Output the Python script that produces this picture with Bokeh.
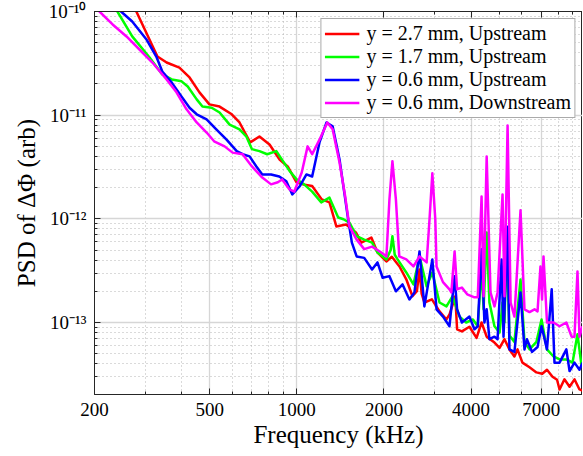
from bokeh.plotting import figure
from bokeh.models import FixedTicker, LogAxis, Legend, LegendItem
from bokeh.embed import file_html
from bokeh.resources import INLINE

# ---- data (kHz, arb) ----
freq_red = [260, 279, 330, 355, 393, 426, 461, 499, 541, 596, 634, 690, 743, 805, 872, 930, 998,
            1050, 1130, 1220, 1297, 1370, 1480, 1600, 1670, 1810, 1900, 2040, 2130, 2264, 2390,
            2510, 2600, 2655, 2700, 2760, 2930, 3113, 3290, 3371, 3530, 3580, 3720, 3950, 4180,
            4350, 4530, 4820, 5020, 5220, 5430, 5650, 5790, 6020, 6370, 6730, 7050, 7320, 7650,
            7930, 8090, 8410, 8760, 9110, 9480, 9710]
psd_red = [1.4e-10, 1.0e-10, 3.68e-11, 3.22e-11, 2.88e-11, 2.31e-11, 1.66e-11, 1.27e-11, 1.21e-11,
           1.02e-11, 8.5e-12, 5.46e-12, 6.23e-12, 5.21e-12, 3.74e-12, 3.2e-12, 2.25e-12,
           2.15e-12, 2.07e-12, 1.54e-12, 1.44e-12, 8.45e-13, 8.8e-13, 7.4e-13, 5.9e-13, 6.6e-13,
           4.74e-13, 3.88e-13, 4.3e-13, 3.47e-13, 2.61e-13, 1.79e-13, 2.0e-13, 3.25e-13, 1.9e-13,
           1.56e-13, 1.67e-13, 1.28e-13, 1.07e-13, 1.2e-13, 1.79e-13, 8.6e-14, 8.2e-14, 9.1e-14,
           7.1e-14, 1.0e-13, 7.3e-14, 6.4e-14, 5.7e-14, 6.9e-14, 5.5e-14, 4.7e-14, 5.5e-14,
           4.1e-14, 3.7e-14, 3.3e-14, 3.2e-14, 3.5e-14, 3.0e-14, 2.8e-14, 2.26e-14, 2.83e-14,
           2.4e-14, 2.83e-14, 2.26e-14, 2.2e-14]

freq_green = [230, 240, 270, 310, 343, 370, 400, 420, 451, 472, 508, 541, 586, 634, 670, 700, 743,
              790, 850, 890, 944, 998, 1060, 1130, 1215, 1297, 1390, 1450, 1520, 1610, 1710, 1820,
              1900, 2040, 2110, 2140, 2180, 2230, 2390, 2530, 2655, 2810, 2940, 3113, 3290, 3450,
              3650, 3850, 4060, 4220, 4350, 4420, 4530, 4630, 4820, 5020, 5140, 5220, 5310, 5430,
              5650, 5930, 6120, 6370, 6730, 7010, 7320, 7710, 8090, 8540, 8970, 9330, 9640, 9710]
psd_green = [1.15e-10, 1.0e-10, 5.75e-11, 3.6e-11, 2.47e-11, 2.21e-11, 2.12e-11, 1.89e-11, 1.42e-11,
             1.21e-11, 1.18e-11, 1.06e-11, 8.1e-12, 7.3e-12, 6.2e-12, 4.7e-12, 4.5e-12, 4.2e-12,
             4.5e-12, 3.7e-12, 2.9e-12, 2.4e-12, 2.15e-12, 1.83e-12, 1.44e-12, 1.6e-12, 1.03e-12,
             9.9e-13, 9.2e-13, 6.8e-13, 6.3e-13, 5.9e-13, 4.74e-13, 4.06e-13, 5.0e-13, 6.8e-13,
             4.5e-13, 4.06e-13, 3.04e-13, 2.33e-13, 4.34e-13, 2.23e-13, 3.04e-13, 1.56e-13,
             1.43e-13, 1.79e-13, 1.14e-13, 1.0e-13, 1.07e-13, 9.2e-14, 3.47e-13, 1.34e-13,
             7.4e-13, 1.56e-13, 9.2e-14, 8.0e-14, 1.56e-13, 1.0e-13, 6.0e-13, 7.5e-14, 6.5e-14,
             2.6e-13, 6.5e-14, 5.5e-14, 6.5e-14, 1.07e-13, 5.5e-14, 4.7e-14, 4.4e-14, 4.4e-14,
             4.1e-14, 7.7e-14, 3.8e-14, 4.0e-14]

freq_blue = [240, 247, 270, 302, 327, 343, 370, 400, 426, 451, 488, 527, 572, 620, 650, 687, 725,
             760, 815, 870, 920, 965, 1022, 1080, 1130, 1198, 1267, 1330, 1405, 1500, 1550, 1610,
             1710, 1820, 1900, 1980, 2090, 2200, 2320, 2450, 2550, 2655, 2760, 2940, 3040, 3200,
             3370, 3510, 3580, 3720, 3950, 4110, 4220, 4350, 4450, 4530, 4630, 4820, 4940, 5100,
             5180, 5350, 5430, 5650, 5930, 6120, 6240, 6500, 6790, 7010, 7320, 7600, 7770, 8090,
             8540, 8760, 9110, 9480, 9710]
psd_blue = [1.15e-10, 1.0e-10, 8.0e-11, 5.4e-11, 3.68e-11, 2.64e-11, 2.06e-11, 1.51e-11, 1.18e-11,
            1.02e-11, 9.1e-12, 7.3e-12, 5.8e-12, 4.5e-12, 4.2e-12, 4.0e-12, 3.2e-12, 2.68e-12,
            2.68e-12, 2.56e-12, 2.3e-12, 1.72e-12, 2.05e-12, 2.68e-12, 2.56e-12, 5.46e-12,
            8.5e-12, 7.8e-12, 3.74e-12, 1.05e-12, 5.9e-13, 4.34e-13, 4.2e-13, 3.25e-13, 3.8e-13,
            2.7e-13, 2.8e-13, 2.0e-13, 2.33e-13, 1.67e-13, 1.95e-13, 4.85e-13, 1.43e-13, 4.06e-13,
            1.34e-13, 1.14e-13, 9.2e-14, 2.8e-13, 1.34e-13, 1.0e-13, 1.14e-13, 8.6e-14, 9.2e-14,
            5.1e-13, 1.0e-13, 1.34e-13, 6.9e-14, 7.3e-14, 6.9e-14, 4.06e-13, 7.3e-14, 8.4e-13,
            5.5e-14, 5.2e-14, 1.95e-13, 5.5e-14, 6.9e-14, 5.2e-14, 5.8e-14, 9.2e-14, 5.5e-14,
            2.09e-13, 4.1e-14, 4.1e-14, 5.5e-14, 3.4e-14, 4.1e-14, 3.5e-14, 4.1e-14]

freq_mag = [200, 208, 231, 258, 286, 317, 355, 384, 416, 451, 488, 518, 563, 600, 650, 700, 760,
            815, 860, 890, 944, 980, 1040, 1090, 1130, 1198, 1275, 1330, 1405, 1470, 1520, 1610,
            1710, 1820, 1960, 2040, 2090, 2140, 2200, 2260, 2390, 2530, 2655, 2810, 2875, 2940,
            3010, 3040, 3200, 3370, 3420, 3510, 3580, 3720, 3880, 4110, 4220, 4350, 4420, 4530,
            4670, 4820, 4940, 5140, 5220, 5350, 5480, 5650, 5930, 6120, 6370, 6630, 6790, 6950,
            7040, 7120, 7320, 7710, 8090, 8540, 8900, 9110, 9330, 9480, 9710]
psd_mag = [1.12e-10, 1.0e-10, 7.5e-11, 5.74e-11, 4.3e-11, 3.22e-11, 2.21e-11, 1.66e-11, 1.14e-11,
           8.5e-12, 6.8e-12, 5.6e-12, 5.0e-12, 4.35e-12, 4.2e-12, 3.2e-12, 2.5e-12, 2.15e-12,
           2.25e-12, 2.4e-12, 1.92e-12, 1.83e-12, 2.8e-12, 5.0e-12, 4.2e-12, 5.8e-12, 8.5e-12,
           7.3e-12, 3.5e-12, 1.64e-12, 8.45e-13, 6.3e-13, 5.1e-13, 5.4e-13, 4.74e-13, 4.34e-13,
           1.54e-12, 3.6e-12, 1.54e-12, 4.34e-13, 4.06e-13, 3.47e-13, 4.34e-13, 3.8e-13, 9.9e-13,
           2.75e-12, 9.9e-13, 3.47e-13, 2.45e-13, 2.09e-13, 1.95e-13, 4.85e-13, 2.09e-13,
           2.17e-13, 1.87e-13, 1.75e-13, 1.75e-13, 1.64e-12, 1.79e-13, 4.0e-12, 1.95e-13,
           1.43e-13, 1.95e-13, 1.72e-12, 1.79e-13, 7.96e-12, 1.56e-13, 1.14e-13, 1.21e-12,
           1.34e-13, 1.26e-13, 1.34e-13, 1.28e-13, 3.47e-13, 1.67e-13, 4.34e-13, 1.0e-13,
           1.0e-13, 9.2e-14, 1.0e-13, 7.3e-14, 7.3e-14, 3.1e-13, 7.3e-14, 9.2e-14]

x_major = [200, 500, 1000, 2000, 4000, 7000]
x_labels = ["200", "500", "1000", "2000", "4000", "7000"]
x_minor = [300, 400, 600, 700, 800, 900, 3000, 5000, 6000, 8000, 9000]
y_major = [1e-13, 1e-12, 1e-11, 1e-10]
y_labels = ["10\u207b\u00b9\u00b3", "10\u207b\u00b9\u00b2", "10\u207b\u00b9\u00b9", "10\u207b\u00b9\u2070"]
y_minor = [k * 10.0 ** e for e in (-14, -13, -12, -11) for k in range(2, 10)]

series_labels = ["y = 2.7 mm, Upstream", "y = 1.7 mm, Upstream",
                 "y = 0.6 mm, Upstream", "y = 0.6 mm, Downstream"]
series_colors = ["#ff0000", "#00ff00", "#0000ff", "#ff00ff"]

FONT = "Liberation Serif"

p = figure(width=582, height=452, x_axis_type="log", y_axis_type="log",
           x_range=(200, 9710), y_range=(2.02e-14, 1e-10),
           output_backend="svg", toolbar_location=None,
           min_border_left=94, min_border_right=0, min_border_top=11, min_border_bottom=58)
p.background_fill_color = "white"
p.outline_line_color = "#262626"
p.outline_line_width = 1

xt = FixedTicker(ticks=x_major, minor_ticks=x_minor)
yt = FixedTicker(ticks=y_major, minor_ticks=y_minor)

for ax, tk, labs, vals in ((p.xaxis[0], xt, x_labels, x_major), (p.yaxis[0], yt, y_labels, y_major)):
    ax.ticker = tk
    ax.major_label_overrides = {v: l for v, l in zip(vals, labs)}
    ax.major_label_text_font = FONT
    ax.major_label_text_font_size = "19px"
    ax.major_label_text_color = "black"
    ax.axis_label_text_font = FONT
    ax.axis_label_text_font_size = "25px"
    ax.axis_label_text_font_style = "normal"
    ax.axis_label_text_color = "black"
    ax.axis_line_color = "#262626"
    ax.major_tick_in = 6
    ax.major_tick_out = 0
    ax.minor_tick_in = 3
    ax.minor_tick_out = 0
    ax.major_tick_line_color = "#262626"
    ax.minor_tick_line_color = "#262626"

p.xaxis.axis_label = "Frequency (kHz)"
p.yaxis.axis_label = "PSD of \u0394\u03a6 (arb)"
p.xaxis.major_label_standoff = 8
p.xaxis.axis_label_standoff = 2
p.yaxis.major_label_standoff = 8
p.yaxis.axis_label_standoff = 6

top = LogAxis(ticker=xt, major_label_text_font_size="0px", major_label_standoff=0,
              major_tick_in=6, major_tick_out=0, minor_tick_in=3, minor_tick_out=0,
              axis_line_color="#262626", major_tick_line_color="#262626",
              minor_tick_line_color="#262626")
top.major_label_overrides = {v: "" for v in x_major}
p.add_layout(top, "above")

for g, tk in ((p.xgrid[0], xt), (p.ygrid[0], yt)):
    g.ticker = tk
    g.grid_line_color = "#d6d6d6"
    g.grid_line_width = 1.3
    g.minor_grid_line_color = "#b5b5b5"
    g.minor_grid_line_dash = "1 3"
    g.minor_grid_line_width = 1

renderers = []
for fx, fy, col in ((freq_red, psd_red, series_colors[0]),
                    (freq_green, psd_green, series_colors[1]),
                    (freq_blue, psd_blue, series_colors[2]),
                    (freq_mag, psd_mag, series_colors[3])):
    r = p.line(fx, fy, line_color=col, line_width=2.5, line_join="round")
    renderers.append(r)

legend = Legend(items=[LegendItem(label=l, renderers=[r]) for l, r in zip(series_labels, renderers)],
                location="top_right")
legend.label_text_font = FONT
legend.label_text_font_size = "20px"
legend.label_text_line_height = 1.0
legend.label_text_color = "black"
legend.border_line_color = "#555555"
legend.border_line_width = 1.3
legend.background_fill_alpha = 1
legend.padding = 3
legend.spacing = 0
legend.label_height = 21
legend.glyph_height = 21
legend.glyph_width = 35
legend.label_standoff = 7
legend.margin = 7
p.add_layout(legend)

open("out.html", "w").write(file_html(p, INLINE))
